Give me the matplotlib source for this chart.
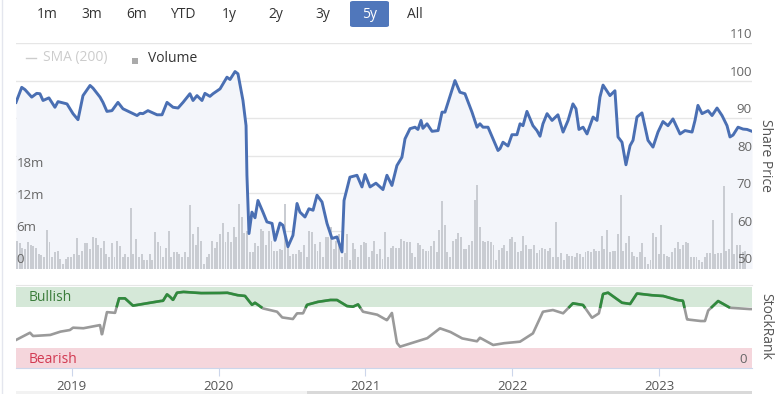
import numpy as np
import matplotlib
matplotlib.use("Agg")
import matplotlib.pyplot as plt
from matplotlib.patches import FancyBboxPatch, Rectangle
from matplotlib.lines import Line2D
import matplotlib.transforms as mtransforms

plt.rcParams['font.family'] = ['Open Sans', 'DejaVu Sans']

# ---------------- data (dates as decimal years) ----------------
t_start, t_end = 2018.621, 2023.631
year_ticks = [2019, 2020, 2021, 2022, 2023]

price_t = [2018.621, 2018.660, 2018.682, 2018.728, 2018.762, 2018.784, 2018.805, 2018.845,
           2018.886, 2018.907, 2018.968, 2019.009, 2019.043, 2019.077, 2019.125, 2019.145,
           2019.193, 2019.213, 2019.240, 2019.274, 2019.315, 2019.349, 2019.397, 2019.445,
           2019.465, 2019.485, 2019.519, 2019.581, 2019.615, 2019.649, 2019.690, 2019.724,
           2019.758, 2019.805, 2019.826, 2019.853, 2019.887, 2019.907, 2019.941, 2019.962,
           2020.010, 2020.057, 2020.078, 2020.112, 2020.132, 2020.166, 2020.187, 2020.193,
           2020.207, 2020.227, 2020.248, 2020.268, 2020.302, 2020.329, 2020.364, 2020.384,
           2020.418, 2020.438, 2020.472, 2020.506, 2020.534, 2020.554, 2020.588, 2020.615,
           2020.643, 2020.670, 2020.704, 2020.738, 2020.772, 2020.806, 2020.840, 2020.854,
           2020.894, 2020.942, 2020.976, 2020.997, 2021.031, 2021.071, 2021.119, 2021.146,
           2021.180, 2021.214, 2021.248, 2021.269, 2021.303, 2021.337, 2021.357, 2021.378,
           2021.391, 2021.419, 2021.453, 2021.494, 2021.521, 2021.541, 2021.609, 2021.643,
           2021.677, 2021.725, 2021.759, 2021.779, 2021.800, 2021.834, 2021.868, 2021.902,
           2021.916, 2021.936, 2021.970, 2021.997, 2022.031, 2022.052, 2022.072, 2022.099,
           2022.140, 2022.167, 2022.188, 2022.208, 2022.236, 2022.270, 2022.310, 2022.345,
           2022.379, 2022.412, 2022.433, 2022.453, 2022.481, 2022.508, 2022.549, 2022.576,
           2022.596, 2022.617, 2022.664, 2022.698, 2022.719, 2022.746, 2022.773, 2022.801,
           2022.821, 2022.848, 2022.882, 2022.923, 2022.957, 2022.991, 2023.025, 2023.059,
           2023.093, 2023.141, 2023.175, 2023.223, 2023.243, 2023.263, 2023.291, 2023.332,
           2023.359, 2023.393, 2023.427, 2023.461, 2023.481, 2023.502, 2023.536, 2023.570,
           2023.597, 2023.631]
price = [94.2, 98.2, 97.6, 95.6, 96.6, 96.5, 94.7, 95.4,
         92.9, 94.4, 93.8, 91.2, 89.6, 96.0, 98.7, 98.0,
         95.6, 94.2, 91.8, 92.0, 94.2, 92.5, 91.6, 90.7,
         91.3, 91.2, 92.0, 90.9, 90.9, 94.2, 92.9, 92.7,
         94.2, 96.5, 94.7, 96.0, 94.7, 96.6, 95.8, 96.5,
         97.8, 100.9, 100.3, 102.4, 101.8, 94.7, 88.0, 74.8,
         59.3, 65.0, 63.5, 68.1, 65.0, 62.4, 62.0, 57.5,
         62.1, 61.5, 55.8, 58.8, 67.3, 65.0, 63.7, 65.9,
         65.5, 69.5, 67.7, 62.0, 58.0, 58.4, 54.4, 68.1,
         74.3, 74.8, 71.7, 75.0, 71.7, 72.7, 71.0, 74.8,
         72.1, 77.4, 79.6, 84.5, 87.2, 87.6, 87.0, 89.4,
         87.3, 88.5, 86.5, 86.7, 91.6, 91.6, 100.0, 96.9,
         96.5, 91.6, 87.6, 88.5, 87.6, 87.6, 84.5, 81.4,
         81.9, 83.6, 82.6, 85.6, 85.6, 88.5, 88.0, 91.8,
         88.0, 86.7, 85.2, 88.5, 91.2, 89.4, 90.9, 86.3,
         89.4, 93.8, 92.5, 87.0, 87.6, 85.8, 90.3, 89.4,
         95.6, 98.8, 96.0, 97.3, 85.0, 83.6, 77.6, 82.7,
         84.1, 90.3, 91.4, 84.1, 82.3, 86.3, 89.1, 88.0,
         89.8, 85.8, 86.7, 86.3, 89.4, 93.4, 91.2, 92.0,
         90.7, 92.7, 90.7, 88.0, 85.0, 85.5, 87.6, 87.1,
         87.0, 86.5]

# weekly volume, millions
volume_m = [5.1, 4.7, 3.9, 3.6, 4.9, 4.3, 4.1, 3.9, 2.7, 2.6, 2.1, 7.2, 4.9, 2.1, 3.1, 3.3,
            1.8, 0.9, 1.8, 2.2, 2.1, 2.7, 5.6, 2.5, 3.3, 4.7, 4.7, 3.6, 5.8, 5.6, 4.4, 3.9,
            5.1, 2.7, 2.1, 4.7, 2.1, 5.1, 4.1, 2.1, 2.7, 2.1, 11.2, 2.7, 5.4, 2.1, 2.7, 1.5,
            1.6, 2.7, 1.5, 6.8, 4.9, 4.1, 2.1, 3.9, 7.0, 2.1, 3.1, 3.1, 2.7, 2.1, 3.1, 2.1,
            11.8, 6.5, 4.3, 7.7, 5.1, 0.9, 2.1, 2.7, 5.1, 3.8, 4.9, 6.5, 8.4, 4.9, 6.8, 4.9,
            7.7, 5.8, 12.0, 9.5, 6.6, 7.0,
            3.1, 3.1, 4.7, 4.1, 7.3, 7.0, 4.3, 7.0, 5.1, 3.3, 3.3, 3.6, 3.5, 12.0, 4.9, 2.4,
            2.7, 2.7, 3.5, 3.1, 4.3, 2.1, 6.9, 6.8, 4.6, 3.3, 4.9, 2.1, 5.9, 5.8, 7.7, 3.6,
            5.1, 6.5, 2.2, 2.8, 6.5, 1.5, 4.7, 3.6, 2.1, 4.3, 4.9, 4.7, 2.1, 3.3, 5.1, 2.7,
            3.6, 1.8, 6.8, 2.1, 3.9, 4.1, 3.9, 3.9, 5.5, 5.1, 4.9, 4.9, 2.8, 2.1, 4.7, 4.3,
            3.6, 3.3, 3.3, 4.1, 5.1, 3.1, 7.2, 12.5, 8.0, 3.1, 2.1, 5.1, 5.5, 6.6, 5.8, 3.6,
            3.6, 4.3, 5.1, 12.7, 15.5, 7.7, 5.1, 4.9,
            5.1, 4.9, 4.3, 1.5, 3.5, 3.8, 4.3, 3.3, 5.5, 5.8, 4.9, 3.1, 3.2, 6.1, 4.3, 3.7,
            3.6, 4.3, 2.8, 3.5, 3.8, 3.6, 3.3, 3.9, 2.1, 8.7, 2.1, 2.8, 1.5, 2.7, 2.4, 2.4,
            2.1, 2.8, 2.7, 2.2, 3.1, 3.3, 3.1, 3.6, 3.3, 3.3, 6.1, 3.6, 7.2, 3.1, 3.3, 3.3,
            6.5, 13.6, 3.3, 4.7, 6.1, 3.1, 2.4, 2.1, 3.1, 4.7, 2.1, 0.9, 1.5, 6.6, 5.8, 2.7,
            8.0, 2.7, 2.4, 2.1, 3.1, 3.9, 4.9, 3.6, 4.3, 4.9, 4.7, 2.1, 2.1, 2.1, 1.5, 1.2,
            2.1, 2.8, 2.8, 9.0, 2.7, 2.8, 2.8, 15.4, 3.3, 3.6, 10.3, 2.7, 4.3, 4.3, 3.1, 3.3]
vol_first, vol_last = 2018.628, 2023.585

rank_t = [2018.621, 2018.716, 2018.737, 2018.852, 2018.920, 2018.988, 2019.009, 2019.077,
          2019.193, 2019.206, 2019.240, 2019.295, 2019.322, 2019.363, 2019.417, 2019.485,
          2019.601, 2019.622, 2019.649, 2019.669, 2019.690, 2019.717, 2019.758, 2019.873,
          2019.989, 2020.057, 2020.125, 2020.180, 2020.227, 2020.248, 2020.302, 2020.398,
          2020.432, 2020.506, 2020.534, 2020.575, 2020.602, 2020.670, 2020.758, 2020.806,
          2020.874, 2020.915, 2020.949, 2020.983, 2021.078, 2021.146, 2021.180, 2021.214,
          2021.235, 2021.351, 2021.419, 2021.507, 2021.575, 2021.657, 2021.759, 2021.779,
          2021.868, 2021.936, 2022.052, 2022.140, 2022.208, 2022.276, 2022.345, 2022.412,
          2022.481, 2022.542, 2022.589, 2022.617, 2022.651, 2022.746, 2022.801, 2022.848,
          2022.937, 2023.025, 2023.120, 2023.161, 2023.189, 2023.277, 2023.311, 2023.332,
          2023.400, 2023.481, 2023.604]
rank = [34.6, 43.6, 39.5, 40.7, 44.8, 46.9, 49.8, 49.0,
        53.0, 40.7, 69.0, 68.0, 86.0, 86.0, 77.0, 79.0,
        82.7, 83.0, 91.0, 88.0, 84.0, 93.0, 94.0, 92.5,
        92.5, 93.0, 90.0, 89.0, 78.0, 80.6, 73.6, 69.5,
        62.5, 60.5, 67.5, 67.5, 78.0, 81.5, 84.0, 84.0,
        76.5, 75.7, 78.6, 69.5, 66.0, 59.0, 68.0, 31.0,
        26.3, 33.0, 36.6, 49.0, 44.8, 36.6, 33.0, 37.4,
        28.4, 30.5, 32.5, 42.8, 69.5, 71.6, 67.5, 79.9,
        77.8, 62.0, 67.5, 91.4, 93.0, 80.6, 79.0, 92.0,
        90.0, 89.0, 84.0, 83.0, 60.0, 58.0, 58.0, 70.8,
        82.7, 74.4, 72.8]

price_ticks = [50, 60, 70, 80, 90, 100, 110]
vol_ticks = [0, 6, 12, 18]
vol_labels = ['0', '6m', '12m', '18m']
buttons = ['1m', '3m', '6m', 'YTD', '1y', '2y', '3y', '5y', 'All']

# ---------------- figure ----------------
W, H = 779, 394
fig = plt.figure(figsize=(W / 100, H / 100), dpi=100)
fig.patch.set_facecolor('white')

def fx(px):
    return px / W

def fy(py):
    return 1 - py / H

# price panel
ax_p = fig.add_axes([fx(16), fy(268.5), 736 / W, (268.5 - 43) / H])
ax_p.set_xlim(t_start, t_end)
ax_p.set_ylim(50, 110)
ax_p.set_yticks(price_ticks)
ax_p.grid(axis='y', color='#e6e6e6', lw=1)
ax_p.set_axisbelow(True)
for s in ax_p.spines.values():
    s.set_visible(False)
ax_p.fill_between(price_t, price, 50, color='#f3f5fa', lw=0)

ax_v = ax_p.twinx()
ax_v.set_ylim(0, 41.9)
vol_t = np.linspace(vol_first, vol_last, len(volume_m))
step = (vol_last - vol_first) / (len(volume_m) - 1)
ax_v.bar(vol_t, volume_m, width=step * 0.72, color='#c9ccd2', lw=0)
ax_v.axis('off')

ax_l = ax_p.twinx()
ax_l.set_ylim(50, 110)
ax_l.plot(price_t, price, color='#4a6fb3', lw=2.1, solid_joinstyle='round')
ax_l.axis('off')

# twinx turns the left ticks back on, so switch them off afterwards
ax_p.tick_params(left=False, right=False, bottom=False, labelleft=False,
                 labelright=False, labelbottom=False)

lab_kw = dict(fontsize=9.5, color='#666666')
for v in price_ticks:
    ax_l.annotate(str(v), xy=(1.0, v), xycoords=('axes fraction', 'data'),
                  xytext=(0, 1.5), textcoords='offset points', ha='right', va='bottom', **lab_kw)
for v, lab in zip(vol_ticks, vol_labels):
    ax_v.annotate(lab, xy=(0.0, v), xycoords=('axes fraction', 'data'),
                  xytext=(0.5, 1.5), textcoords='offset points', ha='left', va='bottom', **lab_kw)

# stockrank panel
ax_r = fig.add_axes([fx(16), fy(368), 736 / W, (368 - 285) / H])
ax_r.set_xlim(t_start, t_end)
ax_r.set_ylim(0, 102.5)
ax_r.axhspan(75, 100, color='#d5e8d8', lw=0)
ax_r.axhspan(0, 25, color='#f5d6dc', lw=0)
tt = np.linspace(t_start, t_end, 2000)
rr = np.interp(tt, rank_t, rank)
ax_r.plot(tt, rr, color='#9a9a9a', lw=1.9)
ax_r.plot(tt, np.where(rr >= 75, rr, np.nan), color='#2f8a3c', lw=1.9)
for s in ['left', 'right']:
    ax_r.spines[s].set_visible(False)
ax_r.spines['top'].set_color('#e6e6e6')
ax_r.spines['bottom'].set_color('#ccd6eb')
ax_r.set_yticks([])
ax_r.set_xticks(year_ticks)
ax_r.set_xticklabels([str(y) for y in year_ticks])
ax_r.tick_params(axis='x', direction='out', length=6, color='#ccd6eb', labelsize=9.5,
                 labelcolor='#555555', pad=3)
blend = mtransforms.blended_transform_factory(ax_r.transAxes, ax_r.transData)
ax_r.text(0.0177, 87, 'Bullish', transform=blend, fontsize=10, color='#3b7d3b',
          va='center', ha='left')
ax_r.text(0.0177, 11, 'Bearish', transform=blend, fontsize=10, color='#d23a52',
          va='center', ha='left')
ax_r.text(0.993, 11, '0', transform=blend, fontsize=9.5, color='#666666',
          va='center', ha='right')

# axis titles on the right
fig.text(fx(766), fy(155), 'Share Price', rotation=270, ha='center', va='center',
         fontsize=10, color='#555555')
fig.text(fx(766), fy(326), 'StockRank', rotation=270, ha='center', va='center',
         fontsize=10, color='#555555')

# range selector buttons
btn_x = [47, 92, 137, 183, 229, 276, 323, 370, 415]
fig.patches.append(FancyBboxPatch((fx(350), fy(27)), 39 / W, 26 / H,
                                  boxstyle='round,pad=0,rounding_size=0.004',
                                  transform=fig.transFigure, color='#5077bb', lw=0))
for b, x in zip(buttons, btn_x):
    fig.text(fx(x), fy(14), b, ha='center', va='center', fontsize=10,
             color='white' if b == '5y' else '#333333')

# legend
fig.add_artist(Line2D([fx(26), fx(36)], [fy(58), fy(58)], color='#cccccc', lw=1))
fig.text(fx(43), fy(58), 'SMA (200)', ha='left', va='center', fontsize=10, color='#cccccc')
fig.patches.append(Rectangle((fx(132), fy(64)), 6 / W, 6 / H, transform=fig.transFigure,
                             color='#aaaaaa', lw=0))
fig.text(fx(148), fy(58), 'Volume', ha='left', va='center', fontsize=10, color='#333333')

# left border and scrollbar
fig.add_artist(Line2D([fx(2), fx(2)], [0, 1], color='#e4e6ee', lw=1))
fig.patches.append(Rectangle((fx(16), 0), 736 / W, 3 / H, transform=fig.transFigure,
                             color='#f2f2f2', lw=0))
fig.patches.append(Rectangle((fx(307), 0), 445 / W, 3 / H, transform=fig.transFigure,
                             color='#d9d9d9', lw=0))

fig.savefig('out.png', dpi=100)
